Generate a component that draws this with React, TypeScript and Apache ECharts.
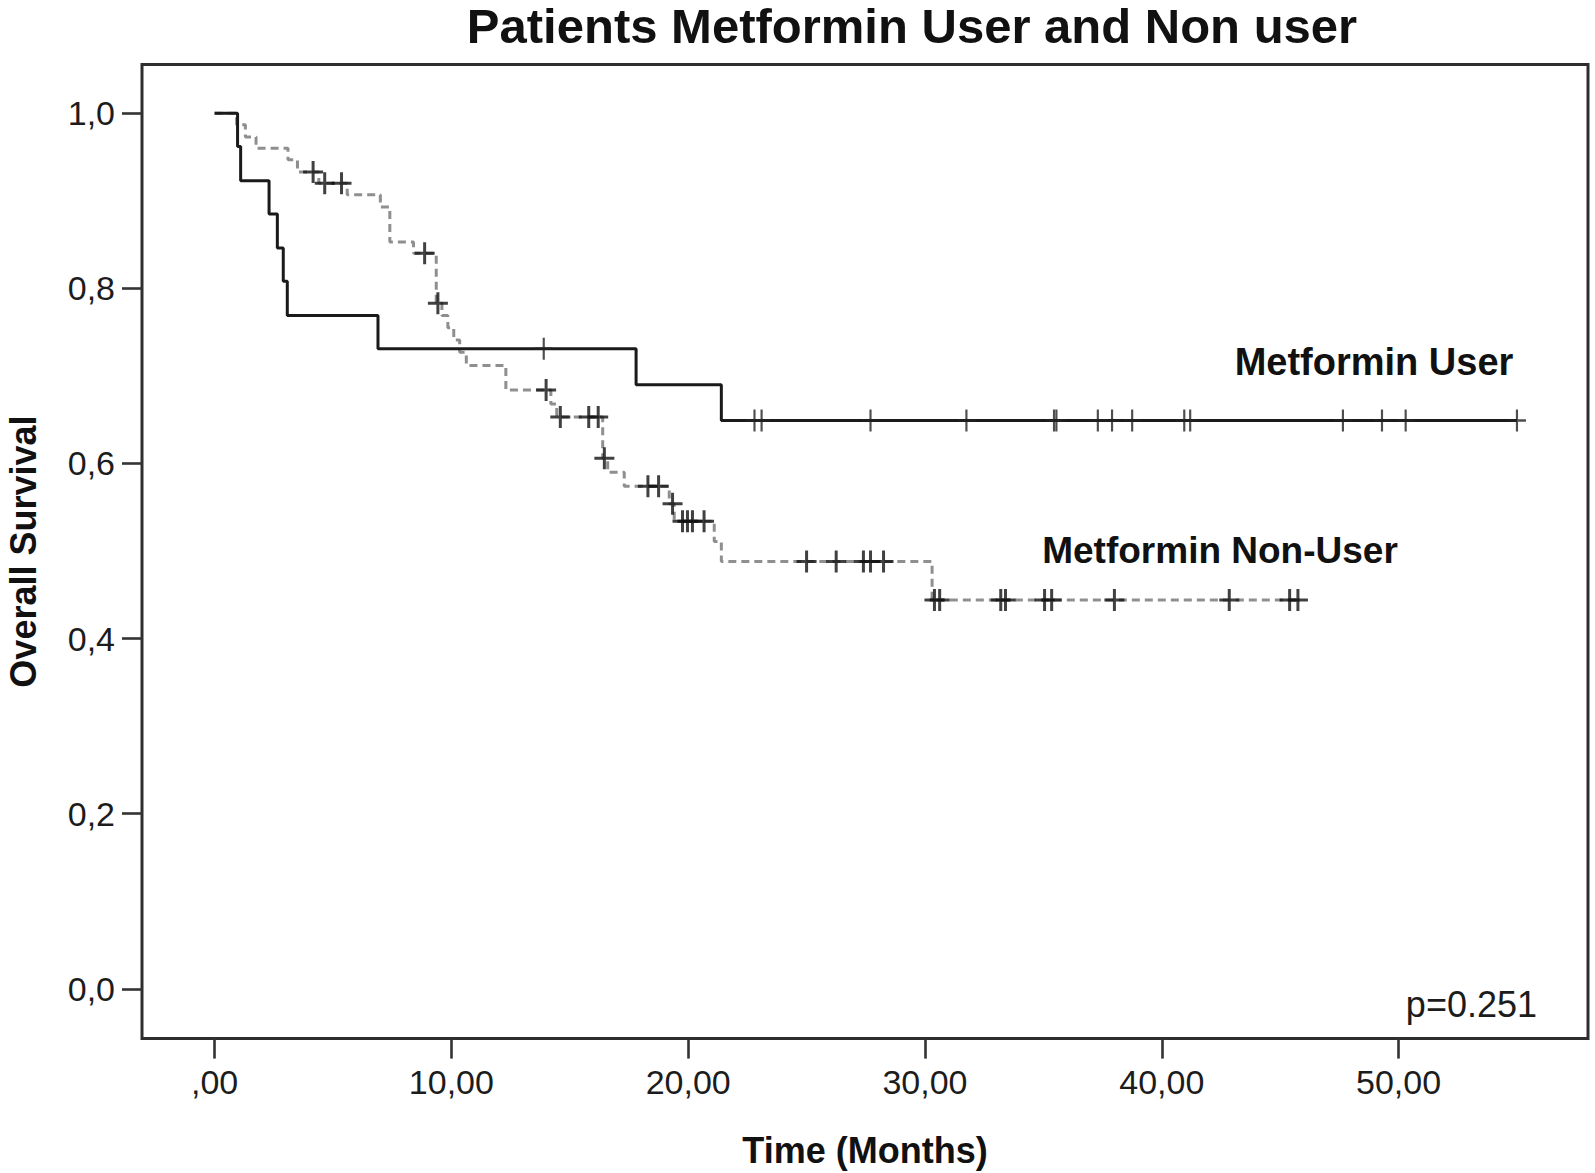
import React, { useEffect, useRef } from "react";
import * as echarts from "echarts";

// ---------------- data ----------------
const xTickValues = [0, 10, 20, 30, 40, 50];
const xTickLabels = [",00", "10,00", "20,00", "30,00", "40,00", "50,00"];
const yTickValues = [0, 0.2, 0.4, 0.6, 0.8, 1.0];
const yTickLabels = ["0,0", "0,2", "0,4", "0,6", "0,8", "1,0"];

// Metformin User (solid) – Kaplan-Meier steps
const userEventTimes = [0.97, 1.1, 2.3, 2.65, 2.9, 3.07, 6.9, 17.8, 21.4];
const userSurvival = [0.962, 0.923, 0.885, 0.846, 0.808, 0.769, 0.731, 0.69, 0.649];
const userLastTime = 55.0;
const userCensorTimes = [
  13.9, 22.8, 23.1, 27.7, 31.75, 35.45, 35.55, 37.3, 37.9, 38.75, 40.95, 41.2, 47.65, 49.3, 50.3, 55.0,
];

// Metformin Non-User (dashed) – Kaplan-Meier steps
const nonUserEventTimes = [
  0.93, 1.3, 1.75, 3.1, 3.5, 4.4, 5.6, 7.0, 7.4, 8.4, 9.36, 9.6, 9.85, 10.1, 10.35, 10.63, 12.3, 14.2,
  14.45, 16.39, 16.6, 17.3, 19.2, 19.41, 21.1, 21.4, 30.3,
];
const nonUserSurvival = [
  0.987, 0.973, 0.96, 0.947, 0.933, 0.92, 0.907, 0.893, 0.853, 0.84, 0.783, 0.769, 0.755, 0.741, 0.727,
  0.712, 0.684, 0.668, 0.653, 0.606, 0.59, 0.574, 0.554, 0.534, 0.511, 0.488, 0.444,
];
const nonUserLastTime = 45.8;
const nonUserCensorTimes = [
  4.16, 4.65, 5.36, 8.87, 9.43, 14.0, 14.6, 15.8, 16.2, 16.46, 18.3, 18.75, 19.34, 19.76, 19.97, 20.18,
  20.67, 25.0, 26.25, 27.4, 27.7, 28.25, 30.4, 30.62, 33.2, 33.4, 35.05, 35.35, 38.0, 42.85, 45.4, 45.75,
];

const titleText = "Patients Metformin User and Non user";
const userLabel = "Metformin User";
const nonUserLabel = "Metformin Non-User";
const pValueText = "p=0.251";
const xAxisTitle = "Time (Months)";
const yAxisTitle = "Overall Survival";

// ---------------- helpers ----------------
function stepPoints(times: number[], surv: number[], last: number): number[][] {
  const pts: number[][] = [[0, 1]];
  times.forEach((t, i) => pts.push([t, surv[i]]));
  pts.push([last, surv[surv.length - 1]]);
  return pts;
}
function survivalAt(times: number[], surv: number[], t: number): number {
  let s = 1;
  for (let i = 0; i < times.length; i++) {
    if (times[i] <= t) s = surv[i];
  }
  return s;
}
function labelFor(values: number[], labels: string[], v: number): string {
  const i = values.findIndex((x) => Math.abs(x - v) < 1e-6);
  return i >= 0 ? labels[i] : "";
}

const FONT = "'Liberation Sans', Arial, sans-serif";
const CROSS_THIN =
  "path://M8.8,0 L11.2,0 L11.2,9.8 L20,9.8 L20,12.2 L11.2,12.2 L11.2,22 L8.8,22 L8.8,12.2 L0,12.2 L0,9.8 L8.8,9.8 Z";
const CROSS_BOLD =
  "path://M8.5,0 L11.5,0 L11.5,9.5 L20,9.5 L20,12.5 L11.5,12.5 L11.5,22 L8.5,22 L8.5,12.5 L0,12.5 L0,9.5 L8.5,9.5 Z";

export default function App() {
  const ref = useRef<HTMLDivElement>(null);

  useEffect(() => {
    if (!ref.current) return;
    const chart = echarts.init(ref.current, undefined, { renderer: "svg" });

    const userLine = stepPoints(userEventTimes, userSurvival, userLastTime);
    const nonUserLine = stepPoints(nonUserEventTimes, nonUserSurvival, nonUserLastTime);
    const userCensor = userCensorTimes.map((t) => [t, survivalAt(userEventTimes, userSurvival, t)]);
    const nonUserCensor = nonUserCensorTimes.map((t) => [
      t,
      survivalAt(nonUserEventTimes, nonUserSurvival, t),
    ]);

    const tickStyle = { color: "#333", width: 2.6 };

    chart.setOption({
      animation: false,
      backgroundColor: "#ffffff",
      grid: {
        left: 142,
        right: 7,
        top: 64.5,
        bottom: 134.4,
        containLabel: false,
        outerBoundsMode: "none",
        show: true,
        borderColor: "#2e2e2e",
        borderWidth: 3,
        backgroundColor: "transparent",
      },
      xAxis: {
        type: "value",
        min: -3.066,
        max: 58.0,
        position: "bottom",
        axisLine: { show: false, onZero: false },
        splitLine: { show: false },
        axisTick: {
          show: true,
          inside: false,
          length: 20,
          lineStyle: tickStyle,
          customValues: xTickValues,
        },
        axisLabel: {
          customValues: xTickValues,
          formatter: (v: number) => labelFor(xTickValues, xTickLabels, v),
          fontSize: 34,
          color: "#1c1c1c",
          fontFamily: FONT,
          margin: 26,
        },
        name: xAxisTitle,
        nameLocation: "middle",
        nameGap: 94,
        nameTextStyle: { fontSize: 36, fontWeight: "bold", color: "#111", fontFamily: FONT },
      },
      yAxis: {
        type: "value",
        min: -0.0569,
        max: 1.0557,
        position: "left",
        axisLine: { show: false, onZero: false },
        splitLine: { show: false },
        axisTick: {
          show: true,
          inside: false,
          length: 20,
          lineStyle: tickStyle,
          customValues: yTickValues,
        },
        axisLabel: {
          customValues: yTickValues,
          formatter: (v: number) => labelFor(yTickValues, yTickLabels, v),
          fontSize: 34,
          color: "#1c1c1c",
          fontFamily: FONT,
          margin: 27,
        },
        name: yAxisTitle,
        nameLocation: "middle",
        nameGap: 101,
        nameTextStyle: { fontSize: 36, fontWeight: "bold", color: "#111", fontFamily: FONT },
      },
      graphic: [
        {
          type: "text",
          x: 912,
          y: 26,
          style: {
            text: titleText,
            fontSize: 49,
            fontWeight: "bold",
            fontFamily: FONT,
            fill: "#111",
            textAlign: "center",
            textVerticalAlign: "middle",
          },
        },
        {
          type: "text",
          x: 1374,
          y: 362,
          style: {
            text: userLabel,
            fontSize: 38,
            fontWeight: "bold",
            fontFamily: FONT,
            fill: "#111",
            textAlign: "center",
            textVerticalAlign: "middle",
          },
        },
        {
          type: "text",
          x: 1220,
          y: 550,
          style: {
            text: nonUserLabel,
            fontSize: 37,
            fontWeight: "bold",
            fontFamily: FONT,
            fill: "#111",
            textAlign: "center",
            textVerticalAlign: "middle",
          },
        },
        {
          type: "text",
          x: 1537,
          y: 1004,
          style: {
            text: pValueText,
            fontSize: 36,
            fontFamily: FONT,
            fill: "#1c1c1c",
            textAlign: "right",
            textVerticalAlign: "middle",
          },
        },
      ],
      series: [
        {
          name: nonUserLabel,
          type: "line",
          step: "end",
          data: nonUserLine,
          symbol: "none",
          lineStyle: { color: "#8f8f8f", width: 3, type: [8, 5] },
          z: 2,
        },
        {
          name: userLabel,
          type: "line",
          step: "end",
          data: userLine,
          symbol: "none",
          lineStyle: { color: "#1a1a1a", width: 3 },
          z: 3,
        },
        {
          name: nonUserLabel + " censored",
          type: "scatter",
          data: nonUserCensor,
          symbol: CROSS_BOLD,
          symbolSize: [20, 22],
          itemStyle: { color: "#111" },
          z: 4,
        },
        {
          name: userLabel + " censored",
          type: "scatter",
          data: userCensor,
          symbol: CROSS_THIN,
          symbolSize: [18, 22],
          itemStyle: { color: "#222" },
          z: 4,
        },
      ],
    });

    return () => chart.dispose();
  }, []);

  return (
    <div
      ref={ref}
      style={{ position: "absolute", left: 0, top: 0, width: 1595, height: 1173, background: "#fff" }}
    />
  );
}
